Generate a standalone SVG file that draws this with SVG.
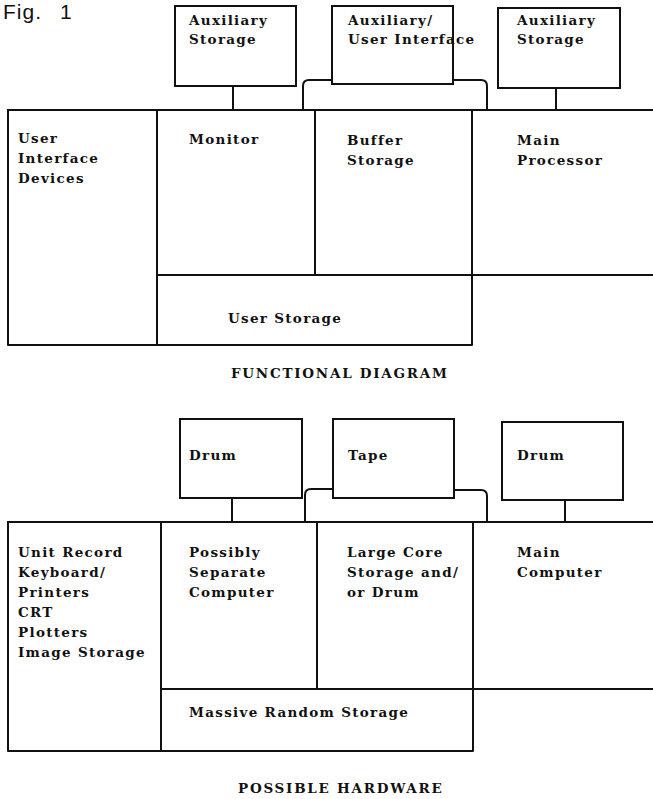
<svg xmlns="http://www.w3.org/2000/svg" width="653" height="799" viewBox="0 0 653 799">
<style>
.ln{fill:none;stroke:#111;stroke-width:2;stroke-linejoin:round;stroke-linecap:square}
.bx{fill:#fff;stroke:#111;stroke-width:2}
.t{font-family:"DejaVu Serif","Liberation Serif",serif;font-weight:bold;font-size:13.5px;letter-spacing:1.3px;fill:#111}
.cap{font-family:"DejaVu Serif","Liberation Serif",serif;font-weight:bold;font-size:13.5px;letter-spacing:1.75px;fill:#111}
.fig{font-family:"Liberation Sans","DejaVu Sans",sans-serif;font-size:21px;letter-spacing:1px;fill:#111}
</style>
<rect width="653" height="799" fill="#fff"/>
<text class="fig" x="3" y="19">Fig. <tspan x="60">1</tspan></text>

<g id="connectors">
<path class="ln" d="M233,86 V110"/>
<path class="ln" d="M303,110 V86 Q303,80 309,80 H332"/>
<path class="ln" d="M453,80 H481 Q487,80 487,86 V110"/>
<path class="ln" d="M556,88 V110"/>
<path class="ln" d="M232,498 V522"/>
<path class="ln" d="M305,522 V495 Q305,489 311,489 H333"/>
<path class="ln" d="M454,490 H481 Q487,490 487,496 V522"/>
<path class="ln" d="M565,500 V522"/>
</g>

<g id="functional-frame">
<path class="ln" d="M8,110 H653"/>
<path class="ln" d="M8,110 V345 H472 V110"/>
<path class="ln" d="M157,110 V345"/>
<path class="ln" d="M315,110 V275"/>
<path class="ln" d="M157,275 H653"/>
</g>

<g id="aux-storage-1">
<rect class="bx" x="175" y="6" width="121" height="80"/>
<text class="t" x="189" y="25">Auxiliary</text>
<text class="t" x="189" y="44">Storage</text>
</g>
<g id="aux-user-interface">
<rect class="bx" x="332" y="6" width="121" height="78"/>
<text class="t" x="348" y="25">Auxiliary/</text>
<text class="t" x="348" y="44">User Interface</text>
</g>
<g id="aux-storage-2">
<rect class="bx" x="498" y="8" width="122" height="80"/>
<text class="t" x="517" y="25">Auxiliary</text>
<text class="t" x="517" y="44">Storage</text>
</g>
<g id="user-interface-devices">
<text class="t" x="18" y="143">User</text>
<text class="t" x="18" y="163">Interface</text>
<text class="t" x="18" y="183">Devices</text>
</g>
<g id="monitor"><text class="t" x="189" y="144">Monitor</text></g>
<g id="buffer-storage">
<text class="t" x="347" y="145">Buffer</text>
<text class="t" x="347" y="165">Storage</text>
</g>
<g id="main-processor">
<text class="t" x="517" y="145">Main</text>
<text class="t" x="517" y="165">Processor</text>
</g>
<g id="user-storage"><text class="t" x="228" y="323">User Storage</text></g>
<text class="cap" x="231" y="378">FUNCTIONAL DIAGRAM</text>

<g id="hardware-frame">
<path class="ln" d="M8,522 H653"/>
<path class="ln" d="M8,522 V751 H473 V522"/>
<path class="ln" d="M161,522 V751"/>
<path class="ln" d="M317,522 V689"/>
<path class="ln" d="M161,689 H653"/>
</g>

<g id="drum-1">
<rect class="bx" x="180" y="419" width="122" height="79"/>
<text class="t" x="189" y="460">Drum</text>
</g>
<g id="tape">
<rect class="bx" x="333" y="419" width="121" height="79"/>
<text class="t" x="348" y="460">Tape</text>
</g>
<g id="drum-2">
<rect class="bx" x="502" y="422" width="121" height="78"/>
<text class="t" x="517" y="460">Drum</text>
</g>
<g id="io-devices">
<text class="t" x="18" y="557">Unit Record</text>
<text class="t" x="18" y="577">Keyboard/</text>
<text class="t" x="18" y="597">Printers</text>
<text class="t" x="18" y="617">CRT</text>
<text class="t" x="18" y="637">Plotters</text>
<text class="t" x="18" y="657">Image Storage</text>
</g>
<g id="separate-computer">
<text class="t" x="189" y="557">Possibly</text>
<text class="t" x="189" y="577">Separate</text>
<text class="t" x="189" y="597">Computer</text>
</g>
<g id="large-core">
<text class="t" x="347" y="557">Large Core</text>
<text class="t" x="347" y="577">Storage and/</text>
<text class="t" x="347" y="597">or Drum</text>
</g>
<g id="main-computer">
<text class="t" x="517" y="557">Main</text>
<text class="t" x="517" y="577">Computer</text>
</g>
<g id="massive-storage"><text class="t" x="189" y="717">Massive Random Storage</text></g>
<text class="cap" x="238" y="793">POSSIBLE HARDWARE</text>
</svg>
